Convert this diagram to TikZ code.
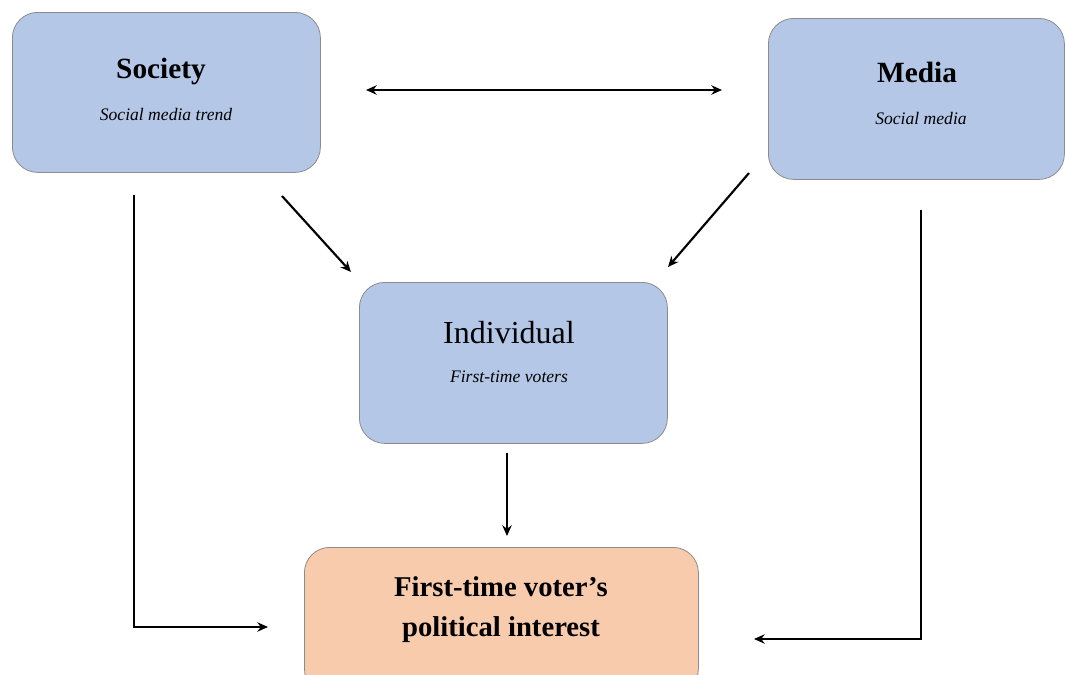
\documentclass[tikz,border=0pt]{standalone}
\usepackage{fontspec}
\setmainfont{Liberation Serif}
\usetikzlibrary{arrows.meta}
\definecolor{boxblue}{HTML}{B4C7E7}
\definecolor{boxorange}{HTML}{F8CBAD}
\definecolor{boxline}{HTML}{8C8C8C}
\begin{document}
\begin{tikzpicture}[x=0.75pt,y=-0.75pt,
  box/.style={draw=boxline,line width=0.6pt,rounded corners=19pt,inner sep=0pt,anchor=north west},
  title/.style={font=\fontsize{22}{26}\selectfont\bfseries},
  sub/.style={font=\fontsize{13.2}{15}\selectfont\itshape},
  conn/.style={line width=1.6pt,-{Stealth[length=8pt,width=7pt]}},
  conn2/.style={line width=1.6pt,{Stealth[length=8pt,width=7pt]}-{Stealth[length=8pt,width=7pt]}}]
\useasboundingbox (0,0) rectangle (1065,675);
% boxes
\node[box,fill=boxblue,minimum width=231pt,minimum height=120pt] (soc) at (12,12) {};
\node[box,fill=boxblue,minimum width=222pt,minimum height=120.75pt] (med) at (768,18) {};
\node[box,fill=boxblue,minimum width=231pt,minimum height=120.75pt] (ind) at (359,282) {};
\node[box,fill=boxorange,minimum width=295.5pt,minimum height=110pt] (out) at (304,547) {};
% texts
\node[title] (soct) at (161,71) {Society};
\node[sub] (socs) at (166,114) {Social media trend};
\node[title] (medt) at (917,72) {Media};
\node[sub] (meds) at (921,118) {Social media};
\node[font=\fontsize{24}{26}\selectfont] (indt) at (509,333) {Individual};
\node[sub] (inds) at (509,377) {First-time voters};
\node[font=\fontsize{21.5}{24}\selectfont\bfseries,align=center] (outt) at (501,610) {First-time voter’s\\[6pt]political interest};
% connector end points
\coordinate (h1) at (366,90);
\coordinate (h2) at (722,90);
\coordinate (a1) at (282,196);
\coordinate (a2) at (351,272);
\coordinate (b1) at (749,173);
\coordinate (b2) at (668,267);
\coordinate (c1) at (507,453);
\coordinate (c2) at (507,536);
\coordinate (l1) at (134,195);
\coordinate (l2) at (134,627);
\coordinate (l3) at (268,627);
\coordinate (r1) at (921,210);
\coordinate (r2) at (921,639);
\coordinate (r3) at (754,639);
% connectors
\draw[conn2] (h1) -- (h2);
\draw[conn] (a1) -- (a2);
\draw[conn] (b1) -- (b2);
\draw[conn] (c1) -- (c2);
\draw[conn] (l1) -- (l2) -- (l3);
\draw[conn] (r1) -- (r2) -- (r3);
\end{tikzpicture}
\end{document}
